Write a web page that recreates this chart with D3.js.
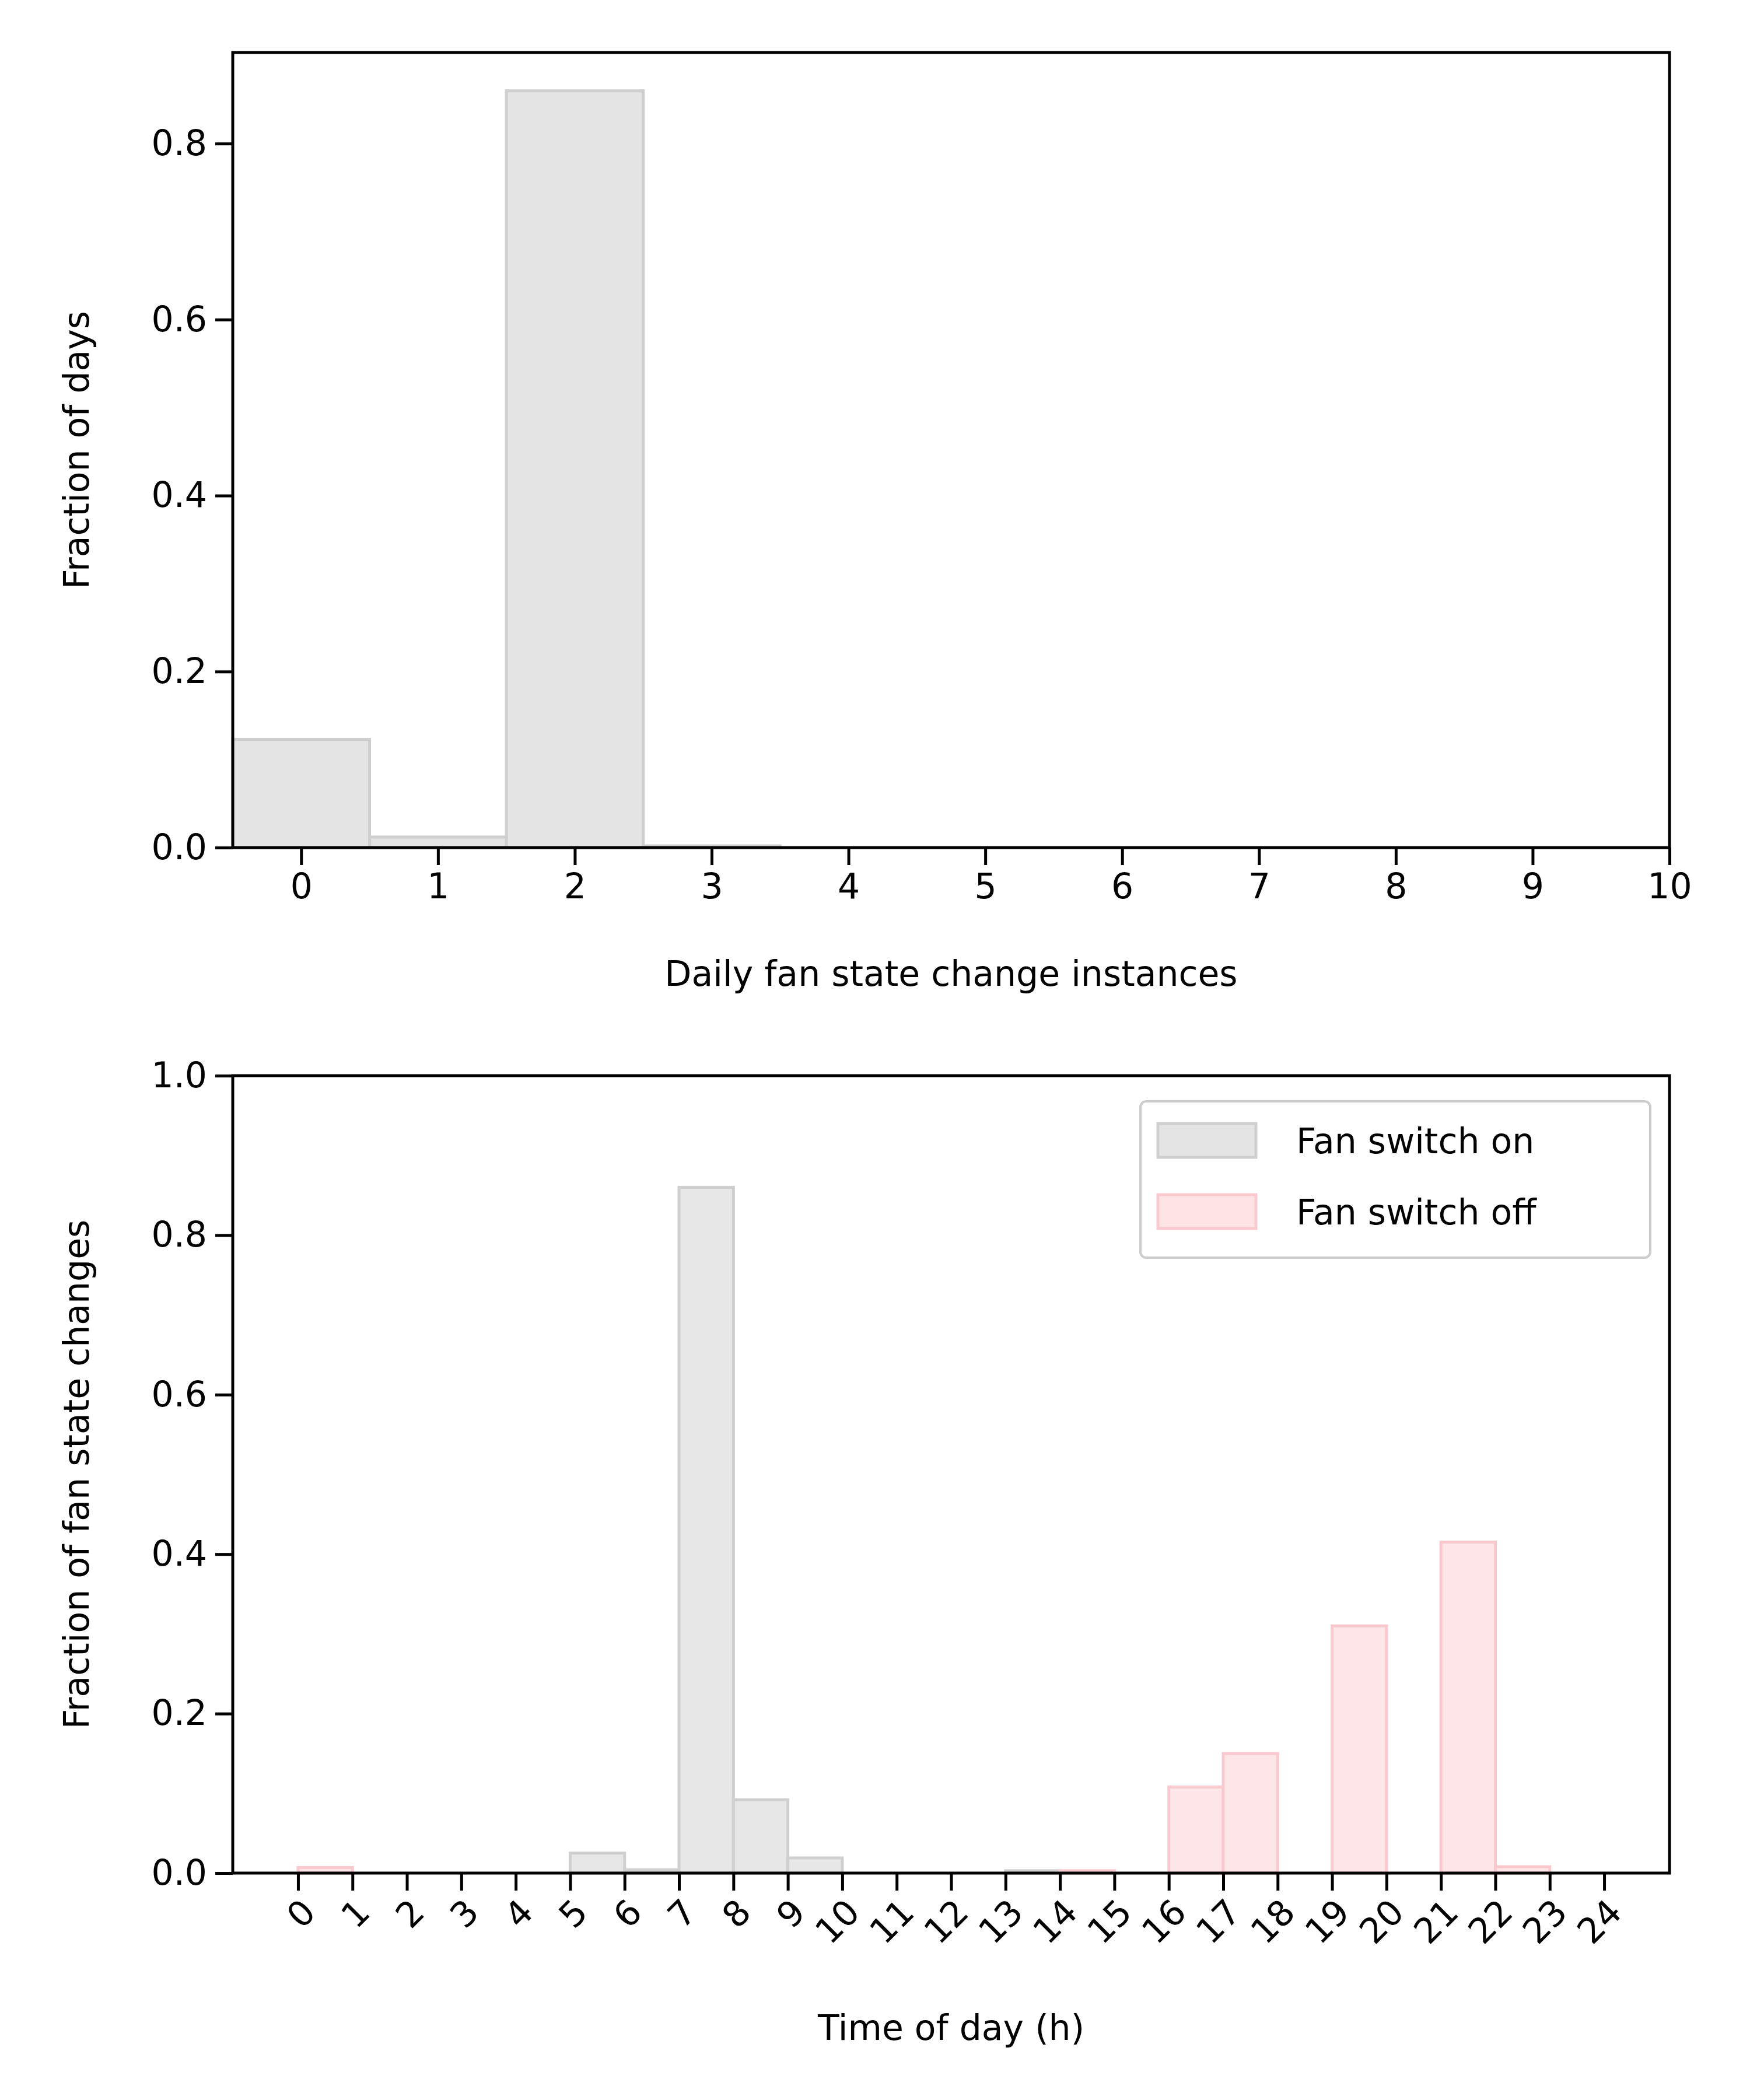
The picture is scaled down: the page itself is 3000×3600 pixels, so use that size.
<!DOCTYPE html>
<html><head><meta charset="utf-8">
<script src="https://cdn.jsdelivr.net/npm/d3@7"></script>
<style>body{margin:0;background:#fff}</style></head>
<body><svg id="c" width="3000" height="3600"></svg>
<script>
const topCounts = [0,1,2,3];
const topValues = [0.123,0.012,0.860,0.002];
const topTicks = [0,1,2,3,4,5,6,7,8,9,10];
const topYTicks = [0,0.2,0.4,0.6,0.8];
const hourBins = d3.range(0,24);
const onValues  = [0,0,0,0,0,0.025,0.004,0.860,0.092,0.019,0,0,0,0.003,0,0,0,0,0,0,0,0,0,0];
const offValues = [0.007,0,0,0,0,0,0,0,0,0,0,0,0,0,0.003,0,0.108,0.150,0,0.310,0,0.415,0.008,0];
const hourTicks = d3.range(0,25);
const botYTicks = [0,0.2,0.4,0.6,0.8,1.0];
const seriesNames = ["Fan switch on","Fan switch off"];

const svg = d3.select("#c");
const FS = 60, TL = 30, LW = 5;
const font = "DejaVu Sans";
const L=399,R=2862;
const onFill="#e4e4e4", onStroke="#cfcfcf", offFill="#fee3e5", offStroke="#f9c9cd";

function styleAxis(g){
  g.selectAll("path").remove();
  g.selectAll("line").attr("stroke","#000").attr("stroke-width",LW);
  g.selectAll("text").attr("font-family",font).attr("font-size",FS).attr("fill","#000");
}
function frame(T,B){
  svg.append("rect").attr("x",L).attr("y",T).attr("width",R-L).attr("height",B-T)
    .attr("fill","none").attr("stroke","#000").attr("stroke-width",LW);
}

// top panel
{
  const T=90,B=1453;
  const x=d3.scaleLinear().domain([-0.5,10]).range([L,R]);
  const y=d3.scaleLinear().domain([0,0.9035]).range([B,T]);
  svg.append("g").selectAll("rect").data(topCounts).join("rect")
    .attr("x",d=>x(d-0.5)).attr("width",d=>x(d+0.5)-x(d-0.5))
    .attr("y",(d,i)=>y(topValues[i])).attr("height",(d,i)=>B-y(topValues[i]))
    .attr("fill",onFill).attr("stroke",onStroke).attr("stroke-width",5);
  const gx=svg.append("g").attr("transform",`translate(0,${B})`)
    .call(d3.axisBottom(x).tickValues(topTicks).tickFormat(d3.format("d")).tickSize(TL).tickPadding(14));
  styleAxis(gx);
  const gy=svg.append("g").attr("transform",`translate(${L},0)`)
    .call(d3.axisLeft(y).tickValues(topYTicks).tickFormat(d3.format(".1f")).tickSize(TL).tickPadding(14));
  styleAxis(gy);
  frame(T,B);
  svg.append("text").attr("x",(L+R)/2).attr("y",1690).attr("text-anchor","middle")
    .attr("font-family",font).attr("font-size",FS).text("Daily fan state change instances");
  svg.append("text").attr("transform",`translate(152,${(T+B)/2}) rotate(-90)`).attr("text-anchor","middle")
    .attr("font-family",font).attr("font-size",FS).text("Fraction of days");
}

// bottom panel
{
  const T=1844,B=3211;
  const x=d3.scaleLinear().domain([-1.2,25.2]).range([L,R]);
  const y=d3.scaleLinear().domain([0,1]).range([B,T]);
  const draw=(vals,fill,stroke)=>svg.append("g").selectAll("rect").data(hourBins.filter(h=>vals[h]>0)).join("rect")
    .attr("x",h=>x(h)).attr("width",h=>x(h+1)-x(h))
    .attr("y",h=>y(vals[h])).attr("height",h=>B-y(vals[h]))
    .attr("fill",fill).attr("fill-opacity",0.9).attr("stroke",stroke).attr("stroke-width",5);
  draw(onValues,onFill,onStroke);
  draw(offValues,offFill,offStroke);
  const gx=svg.append("g").attr("transform",`translate(0,${B})`)
    .call(d3.axisBottom(x).tickValues(hourTicks).tickFormat(d3.format("d")).tickSize(TL).tickPadding(8));
  styleAxis(gx);
  gx.selectAll("text").attr("text-anchor","end").attr("y",0).attr("dy","0.35em")
    .attr("transform","translate(18,56) rotate(-45)");
  const gy=svg.append("g").attr("transform",`translate(${L},0)`)
    .call(d3.axisLeft(y).tickValues(botYTicks).tickFormat(d3.format(".1f")).tickSize(TL).tickPadding(14));
  styleAxis(gy);
  frame(T,B);
  svg.append("text").attr("x",(L+R)/2).attr("y",3497).attr("text-anchor","middle")
    .attr("font-family",font).attr("font-size",FS).text("Time of day (h)");
  svg.append("text").attr("transform",`translate(152,${(T+B)/2}) rotate(-90)`).attr("text-anchor","middle")
    .attr("font-family",font).attr("font-size",FS).text("Fraction of fan state changes");
  // legend
  const lg=svg.append("g");
  lg.append("rect").attr("x",1955).attr("y",1888).attr("width",874).attr("height",268).attr("rx",10)
    .attr("fill","#fff").attr("fill-opacity",0.8).attr("stroke","#ccc").attr("stroke-width",4);
  const fills=[[onFill,onStroke],[offFill,offStroke]];
  seriesNames.forEach((n,i)=>{
    const yy=1926+i*122;
    lg.append("rect").attr("x",1985).attr("y",yy).attr("width",168).attr("height",58)
      .attr("fill",fills[i][0]).attr("stroke",fills[i][1]).attr("stroke-width",5);
    lg.append("text").attr("x",2222).attr("y",yy+51).attr("font-family",font).attr("font-size",FS)
      .text(n);
  });
}
</script></body></html>
